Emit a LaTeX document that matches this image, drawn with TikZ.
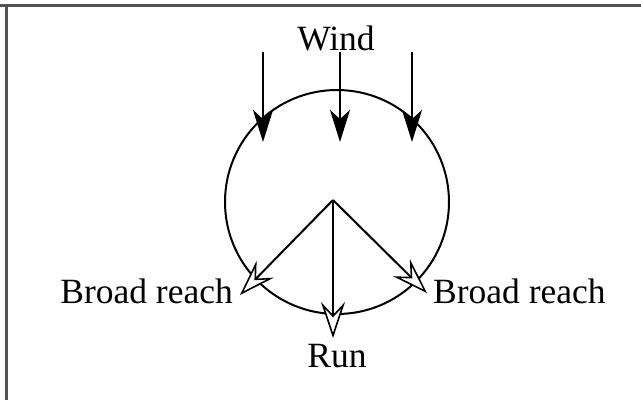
\documentclass[tikz,border=0pt]{standalone}
\usepackage{fontspec}
\setmainfont{Liberation Serif}
\usetikzlibrary{arrows.meta}
\begin{document}
\begin{tikzpicture}[x=1pt,y=-1pt,
  lbl/.style={font=\fontsize{35.5}{40}\selectfont, inner sep=0pt},
  windarrow/.style={line width=2pt, -{Stealth[length=32pt,width=20pt,inset=9pt]}},
  sailarrow/.style={line width=2pt, -{Stealth[open,fill=white,length=36pt,width=24pt,inset=13pt,line width=1.6pt]}}]
\useasboundingbox (0,0) rectangle (641,400);
\draw[line width=3pt, draw=black!68] (0,5) -- (641,5);
\draw[line width=3pt, draw=black!68] (6,5) -- (6,400);
\node[draw, circle, line width=2pt, minimum size=224pt, inner sep=0pt] (c) at (337,202) {};
\node[lbl, anchor=base] (wind) at (336,50) {Wind};
\coordinate (w1s) at (263,52); \coordinate (w1e) at (263,142);
\coordinate (w2s) at (340,52); \coordinate (w2e) at (340,142);
\coordinate (w3s) at (412,52); \coordinate (w3e) at (412,142);
\draw[windarrow] (w1s) -- (w1e);
\draw[windarrow] (w2s) -- (w2e);
\draw[windarrow] (w3s) -- (w3e);
\coordinate (o) at (333,200);
\coordinate (tl) at (240,295);
\coordinate (tr) at (427,293);
\coordinate (tb) at (333,338);
\draw[sailarrow] (o) -- (tl);
\draw[sailarrow] (o) -- (tr);
\draw[sailarrow] (o) -- (tb);
\node[lbl, anchor=base east] (bl) at (233,303) {Broad reach};
\node[lbl, anchor=base west] (br) at (433,303) {Broad reach};
\node[lbl, anchor=base] (run) at (337,367) {Run};
\end{tikzpicture}
\end{document}
